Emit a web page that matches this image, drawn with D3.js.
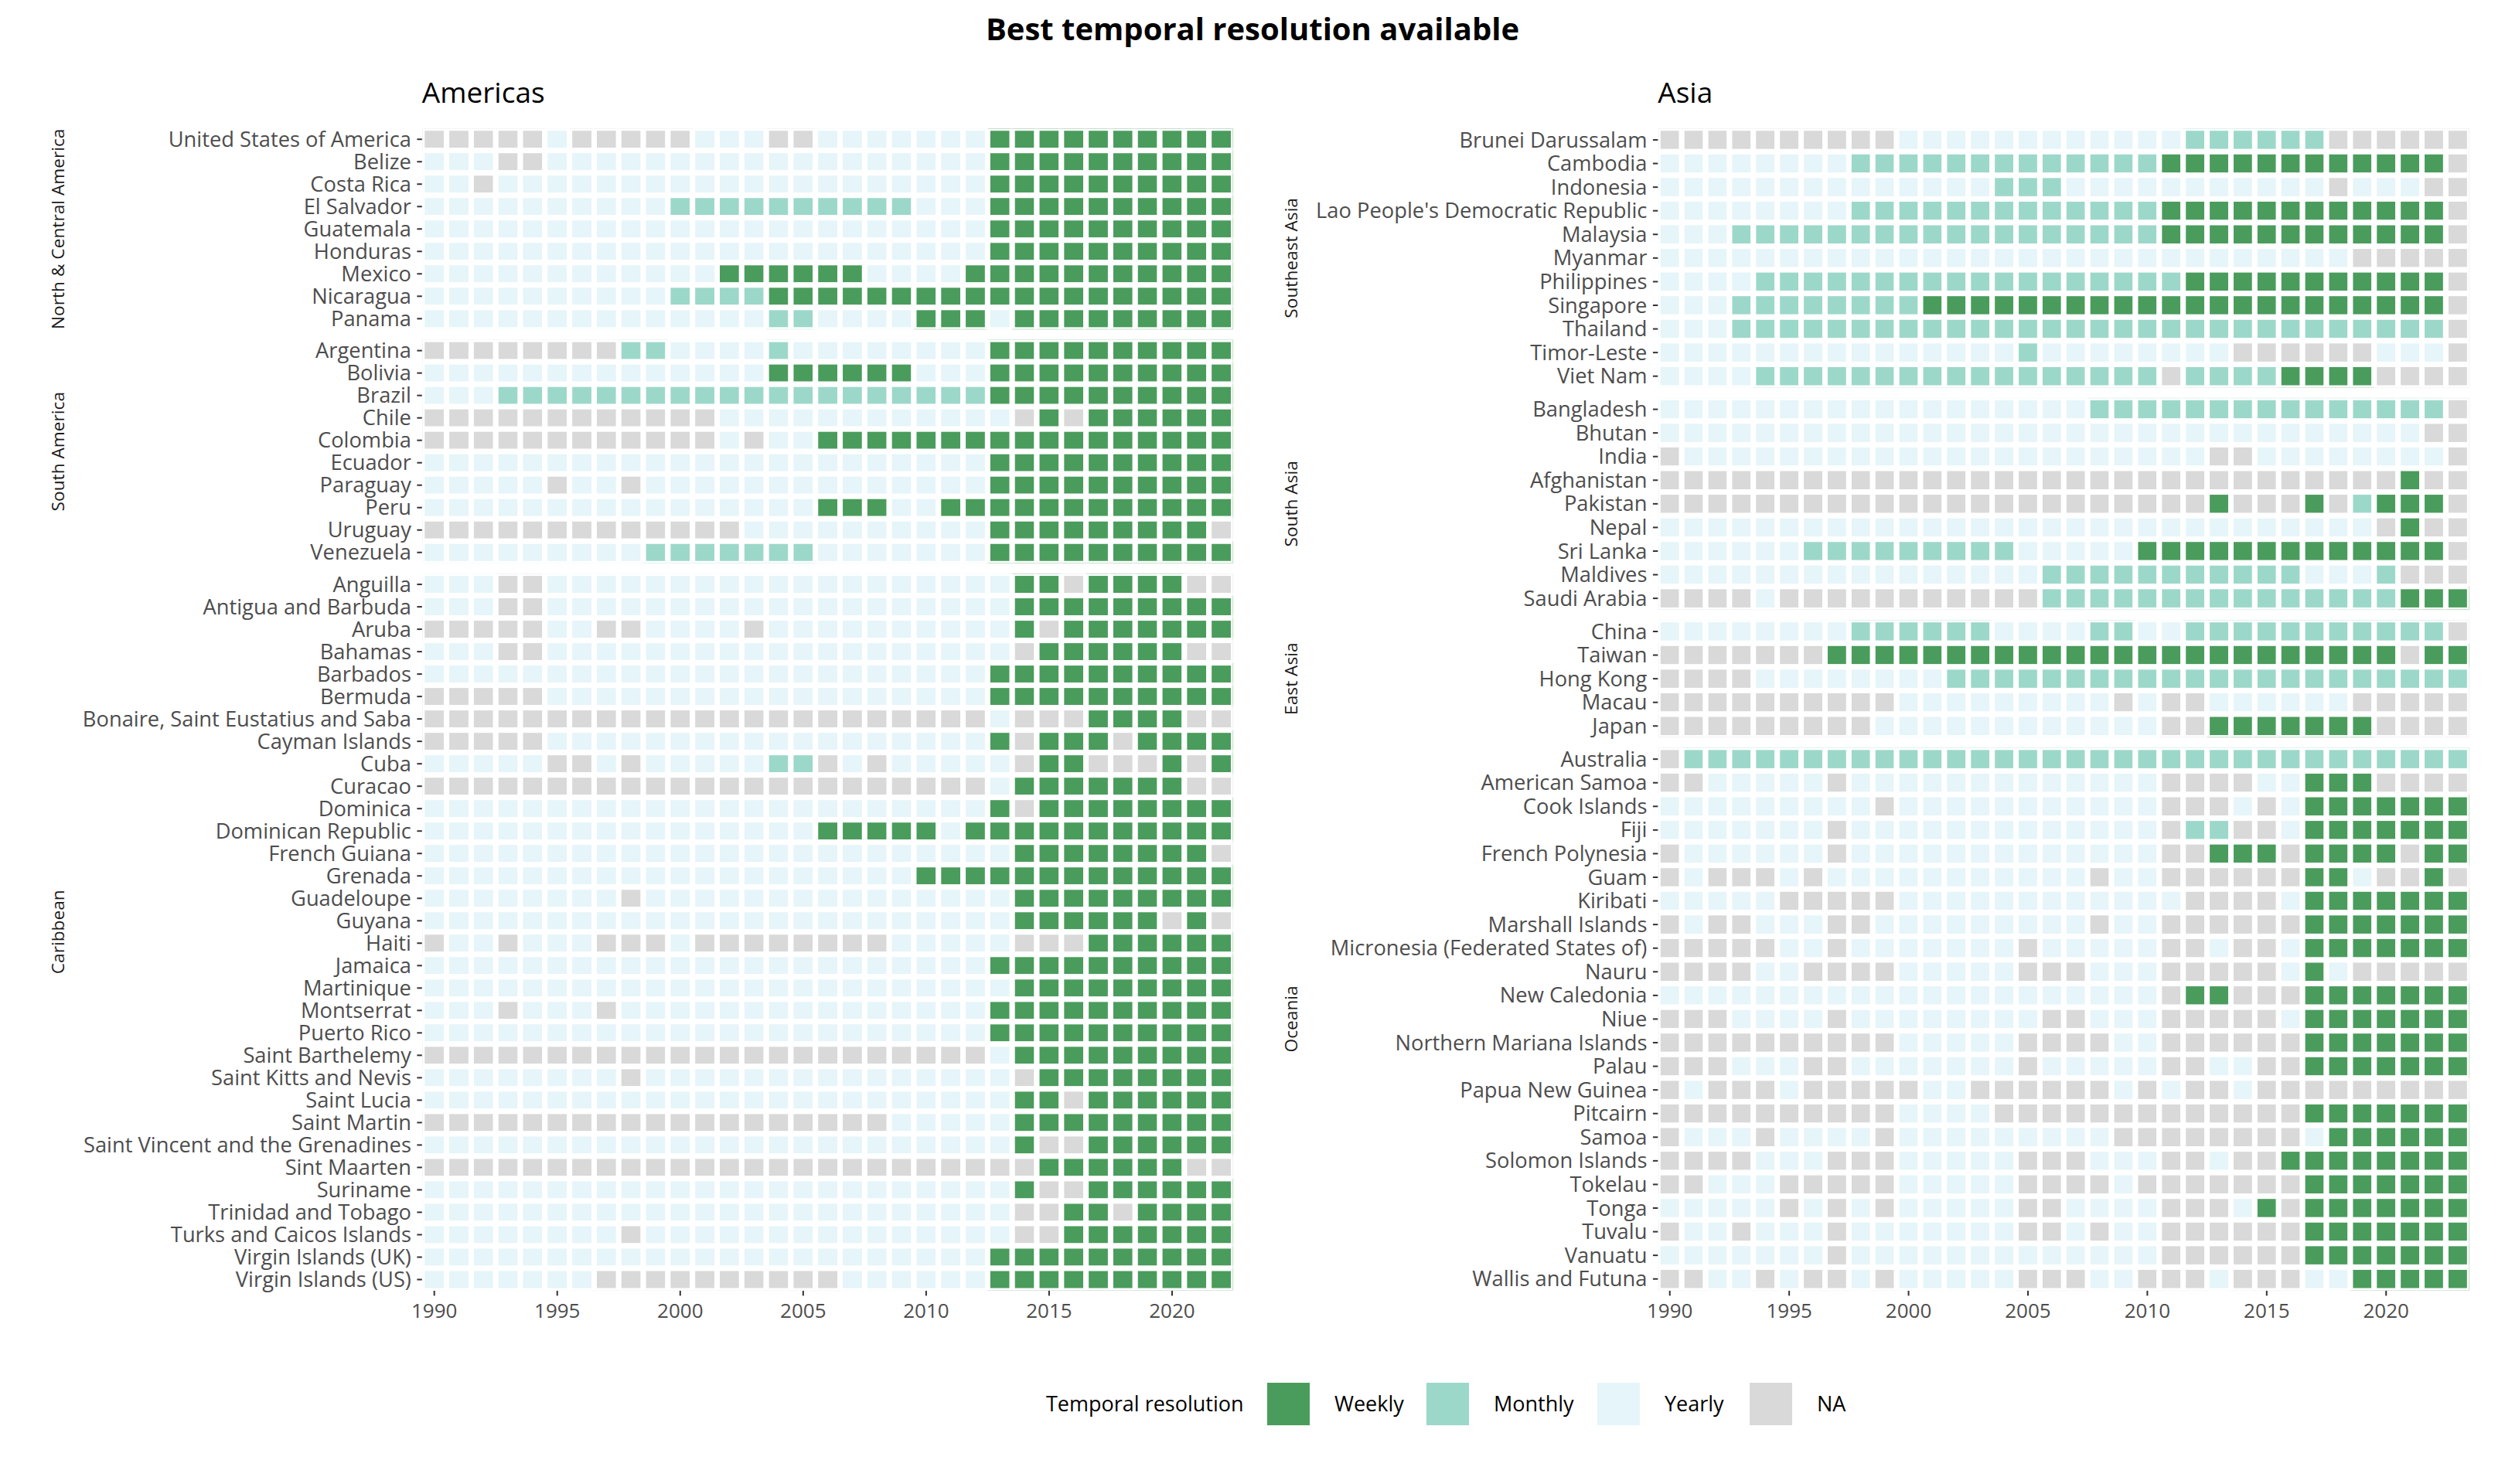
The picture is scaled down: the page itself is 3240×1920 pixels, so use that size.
<!DOCTYPE html>
<html>
<head>
<meta charset="utf-8">
<script src="https://cdn.jsdelivr.net/npm/d3@7"></script>
<style>
	body { margin: 0; background: #fff; }
	text { font-family: "Open Sans", sans-serif; }
</style>
</head>
<body>
<svg></svg>
<script>
// codes: W weekly, M monthly, Y yearly, N not available
// each string reads by year from 1990, split every five years
const resolutionCodes = ["W", "M", "Y", "N"];
const resolutionLabels = ["Weekly", "Monthly", "Yearly", "NA"];
const tickYears = [1990, 1995, 2000, 2005, 2010, 2015, 2020];
const yearsAmericas = d3.range(1990, 2023);
const yearsAsia = d3.range(1990, 2024);

const northCentralAmerica = [
	["United States of America", "NNNNN YNNNN NYYYN NYYYY YYYWW WWWWW WWW"],
	["Belize", "YYYNN YYYYY YYYYY YYYYY YYYWW WWWWW WWW"],
	["Costa Rica", "YYNYY YYYYY YYYYY YYYYY YYYWW WWWWW WWW"],
	["El Salvador", "YYYYY YYYYY MMMMM MMMMM YYYWW WWWWW WWW"],
	["Guatemala", "YYYYY YYYYY YYYYY YYYYY YYYWW WWWWW WWW"],
	["Honduras", "YYYYY YYYYY YYYYY YYYYY YYYWW WWWWW WWW"],
	["Mexico", "YYYYY YYYYY YYWWW WWWYY YYWWW WWWWW WWW"],
	["Nicaragua", "YYYYY YYYYY MMMMW WWWWW WWWWW WWWWW WWW"],
	["Panama", "YYYYY YYYYY YYYYM MYYYY WWWYW WWWWW WWW"],
];

const southAmerica = [
	["Argentina", "NNNNN NNNMM YYYYM YYYYY YYYWW WWWWW WWW"],
	["Bolivia", "YYYYY YYYYY YYYYW WWWWW YYYWW WWWWW WWW"],
	["Brazil", "YYYMM MMMMM MMMMM MMMMM MMMWW WWWWW WWW"],
	["Chile", "NNNNN NNNNN NNYYY YYYYY YYYYN WNWWW WWW"],
	["Colombia", "NNNNN NNNNN NNYNY YWWWW WWWWW WWWWW WWW"],
	["Ecuador", "YYYYY YYYYY YYYYY YYYYY YYYWW WWWWW WWW"],
	["Paraguay", "YYYYY NYYNY YYYYY YYYYY YYYWW WWWWW WWW"],
	["Peru", "YYYYY YYYYY YYYYY YWWWY YWWWW WWWWW WWW"],
	["Uruguay", "NNNNN NNNNN NNNYY YYYYY YYYWW WWWWW WWN"],
	["Venezuela", "YYYYY YYYYM MMMMM MYYYY YYYWW WWWWW WWW"],
];

const caribbean = [
	["Anguilla", "YYYNN YYYYY YYYYY YYYYY YYYYW WNWWW WNN"],
	["Antigua and Barbuda", "YYYNN YYYYY YYYYY YYYYY YYYYW WWWWW WWW"],
	["Aruba", "NNNNN YYNNY YYYNY YYYYY YYYYW NWWWW WWW"],
	["Bahamas", "YYYNN YYYYY YYYYY YYYYY YYYYN WWWWW WNN"],
	["Barbados", "YYYYY YYYYY YYYYY YYYYY YYYWW WWWWW WWW"],
	["Bermuda", "NNNNN YYYYY YYYYY YYYYY YYYWW WWWWW WWW"],
	["Bonaire, Saint Eustatius and Saba", "NNNNN NNNNN NNNNN NNNNN NNNYN NNWWW WNN"],
	["Cayman Islands", "NNNNN YYYYY YYYYY YYYYY YYYWN WWWNW WWW"],
	["Cuba", "YYYYY NNYNY YYYYM MNYNY YYYYN WWNNN WNW"],
	["Curacao", "NNNNN NNNNN NNNNN NNNNN NNNYW WWWWW WNN"],
	["Dominica", "YYYYY YYYYY YYYYY YYYYY YYYWN WWWWW WWW"],
	["Dominican Republic", "YYYYY YYYYY YYYYY YWWWW WYWWW WWWWW WWW"],
	["French Guiana", "YYYYY YYYYY YYYYY YYYYY YYYYW WWWWW WWN"],
	["Grenada", "YYYYY YYYYY YYYYY YYYYY WWWWW WWWWW WWW"],
	["Guadeloupe", "YYYYY YYYNY YYYYY YYYYY YYYYW WWWWW WWW"],
	["Guyana", "YYYYY YYYYY YYYYY YYYYY YYYYW WWWWW NWN"],
	["Haiti", "NYYNY YYNNN YNNNN NNNNY YYYYN NNWWW WWW"],
	["Jamaica", "YYYYY YYYYY YYYYY YYYYY YYYWW WWWWW WWW"],
	["Martinique", "YYYYY YYYYY YYYYY YYYYY YYYYW WWWWW WWW"],
	["Montserrat", "YYYNY YYNYY YYYYY YYYYY YYYWW WWWWW WWW"],
	["Puerto Rico", "YYYYY YYYYY YYYYY YYYYY YYYWW WWWWW WWW"],
	["Saint Barthelemy", "NNNNN NNNNN NNNNN NNNNN NNNYW WWWWW WWW"],
	["Saint Kitts and Nevis", "YYYYY YYYNY YYYYY YYYYY YYYYN WWWWW WWW"],
	["Saint Lucia", "YYYYY YYYYY YYYYY YYYYY YYYYW WNWWW WWW"],
	["Saint Martin", "NNNNN NNNNN NNNNN NNNNY YYYYW WWWWW WWW"],
	["Saint Vincent and the Grenadines", "YYYYY YYYYY YYYYY YYYYY YYYYW NNWWW WWW"],
	["Sint Maarten", "NNNNN NNNNN NNNNN NNNNN NNNNN WWWWW WNN"],
	["Suriname", "YYYYY YYYYY YYYYY YYYYY YYYYW NNWWW WWW"],
	["Trinidad and Tobago", "YYYYY YYYYY YYYYY YYYYY YYYYN NWWNW WWW"],
	["Turks and Caicos Islands", "YYYYY YYYNY YYYYY YYYYY YYYYN NWWWW WWW"],
	["Virgin Islands (UK)", "YYYYY YYYYY YYYYY YYYYY YYYWW WWWWW WWW"],
	["Virgin Islands (US)", "YYYYY YYNNN NNNNN NNYYY YYYWW WWWWW WWW"],
];

const southeastAsia = [
	["Brunei Darussalam", "NNNNN NNNNN YYYYY YYYYY YYMMM MMMNN NNNN"],
	["Cambodia", "YYYYY YYYMM MMMMM MMMMM MWWWW WWWWW WWWN"],
	["Indonesia", "YYYYY YYYYY YYYYM MMYYY YYYYY YYYNY YYNN"],
	["Lao People's Democratic Republic", "YYYYY YYYMM MMMMM MMMMM MWWWW WWWWW WWWN"],
	["Malaysia", "YYYMM MMMMM MMMMM MMMMM MWWWW WWWWW WWWN"],
	["Myanmar", "YYYYY YYYYY YYYYY YYYYY YYYYY YYYYN NNNN"],
	["Philippines", "YYYYM MMMMM MMMMM MMMMM MMWWW WWWWW WWWN"],
	["Singapore", "YYYMM MMMMM MWWWW WWWWW WWWWW WWWWW WWWN"],
	["Thailand", "YYYMM MMMMM MMMMM MMMMM MMMMM MMMMM MMMN"],
	["Timor-Leste", "YYYYY YYYYY YYYYY MYYYY YYYYN NNNNN YYYN"],
	["Viet Nam", "YYYYM MMMMM MMMMM MMMMM MNMMM MWWWW NNNN"],
];

const southAsia = [
	["Bangladesh", "YYYYY YYYYY YYYYY YYYMM MMMMM MMMMM MMMN"],
	["Bhutan", "YYYYY YYYYY YYYYY YYYYY YYYYY YYYYY YYNN"],
	["India", "NYYYY YYYYY YYYYY YYYYY YYYNN YYYYY YYYN"],
	["Afghanistan", "NNNNN NNNNN NNNNN NNNNN NNNNN NNNNN NWNN"],
	["Pakistan", "NNNNN NNNNN NNNNN NNNNN NNNWN NNWNM WWWN"],
	["Nepal", "YYYYY YYYYY YYYYY YYYYY YYYYY YYYYY NWNN"],
	["Sri Lanka", "YYYYY YMMMM MMMMM YYYYY WWWWW WWWWW WWWN"],
	["Maldives", "YYYYY YYYYY YYYYY YMMMM MMMMM MMYYY MNNN"],
	["Saudi Arabia", "NNNNY NNNNN NNNNN NMMMM MMMMM MMMMM MWWW"],
];

const eastAsia = [
	["China", "YYYYY YYYMM MMMMY YYYMM YYMMM MMMMM MMMN"],
	["Taiwan", "NNNNN NNWWW WWWWW WWWWW WWWWW WWWWW WNWW"],
	["Hong Kong", "NNNNY YYYYY YYMMM MMMMM MMMMM MMMMM MMMM"],
	["Macau", "NNNNN NNNNN YYYYY YYYYN YNNYY YYYYN NNNN"],
	["Japan", "NNNNN NNNNY YYYYY YYYYY YNNWW WWWWW NNNN"],
];

const oceania = [
	["Australia", "NMMMM MMMMM MMMMM MMMMM MMMMM MMMMM MMMM"],
	["American Samoa", "NNYYY YYNYY YYYYY YYYYY YNNNN YYWWW NNNN"],
	["Cook Islands", "YYYYY YYYYN YYYYY YYYYY YNNNY NYWWW WWWW"],
	["Fiji", "YYYYY YYNYY YYYYY YYYYY YNMMN NYWWW WWWW"],
	["French Polynesia", "NYYYY YYNYY YYYYY YYYYY YNNWW WNWWW WNWW"],
	["Guam", "NYNNN YNYYY YYYYY YYYNY YNNNN NNWWY NNWN"],
	["Kiribati", "YYYYY NNNNN YYYYY YYYYY YYNNN NYWWW WWWW"],
	["Marshall Islands", "NYNNY YYNNY YYYYY YYYNY YNNNN NNWWW WWWW"],
	["Micronesia (Federated States of)", "NNNNN YYNYY YYYYY NYYYY YNNYN NYWWW WWWW"],
	["Nauru", "NNNNY YNNNN YYYYY NNNYY YNNNN NYWYN NNNN"],
	["New Caledonia", "YYYYY YYYYY YYYYY YYYYY YNWWN NNWWW WWWW"],
	["Niue", "NNNYY YYNYY YYYYY YNNYY YNNNN NYWWW WWWW"],
	["Northern Mariana Islands", "NNNNN NNNNN YYYYY NNNNY YNNNN NNWWW WWWW"],
	["Palau", "NNNYY YNNYY YYYYY NYYYY YNNYY NNWWW WWWW"],
	["Papua New Guinea", "NYNNN YNNNN NYYNN NNNNY NYNNY NNNNN NNNN"],
	["Pitcairn", "NNNNN NNNNN YYYYN NNNNN NNNNN NNWWW WWWW"],
	["Samoa", "NYYYN YYYYN YYYYY YYYYN NNNNN NNYWW WWWW"],
	["Solomon Islands", "NNNNY YYNNN YYYYY NNNYY YNNYN NWWWW WWWW"],
	["Tokelau", "NNYYY NNNNN YYYYY NNNNY NNNNN NNWWW WWWW"],
	["Tonga", "YYYYY NYNYN YYYYY NNYYY YNNNY WNWWW WWWW"],
	["Tuvalu", "NYYNY YYNYY YYYYY NNYNY YNNNN NNWWW WWWW"],
	["Vanuatu", "YYYYY YYNYY YYYYY YYYYY YNNNN NNWWW WWWW"],
	["Wallis and Futuna", "NNYYN YNNYN YYYYY NNNYY NNNYN NNYYW WWWW"],
];

const width = 3240;
const height = 1920;
const panelTop = 165.7;
const panelBottom = 1670;
const facetGap = 12.3;
const tileStroke = 7;

const svg = d3.select("svg").attr("width", width).attr("height", height);

const color = d3
	.scaleOrdinal()
	.domain(resolutionCodes)
	.range(["#4a9c5c", "#9cd8ca", "#e5f5f9", "#d9d9d9"]);

svg.append("text")
	.attr("x", 1620)
	.attr("y", 52)
	.attr("text-anchor", "middle")
	.attr("font-size", 40)
	.attr("font-weight", 700)
	.text("Best temporal resolution available");

function drawPanel(id, title, left, right, stripX, years, facets) {
	const x = d3.scaleBand().domain(years).range([left, right]);
	const rowCount = d3.sum(facets, (f) => f.rows.length);
	const unit = (panelBottom - panelTop - facetGap * (facets.length - 1)) / rowCount;

	svg.append("text")
		.attr("x", left)
		.attr("y", 133)
		.attr("font-size", 37)
		.text(title);

	let top = panelTop;
	facets.forEach((facet, i) => {
		const y = d3
			.scaleBand()
			.domain(facet.rows.map((d) => d[0]))
			.range([top, top + unit * facet.rows.length]);
		const bottom = y.range()[1];

		// two clips: the tiles faintly reach the panel edge, the white borders stop just short of it
		const defs = svg.append("defs");
		defs.append("clipPath").attr("id", `${id}-${i}-edge`).append("rect")
			.attr("x", left).attr("y", top)
			.attr("width", right - left).attr("height", bottom - top);
		defs.append("clipPath").attr("id", `${id}-${i}-inner`).append("rect")
			.attr("x", left + 1).attr("y", top + 1)
			.attr("width", right - left - 2).attr("height", bottom - top - 2);

		const cells = facet.rows.flatMap((row) =>
			row[1].replace(/ /g, "").split("").map((code, j) => ({
				country: row[0],
				year: years[j],
				code: code,
			}))
		);

		svg.append("g")
			.attr("clip-path", `url(#${id}-${i}-edge)`)
			.selectAll("rect")
			.data(cells)
			.enter()
			.append("rect")
			.attr("x", (d) => x(d.year))
			.attr("y", (d) => y(d.country))
			.attr("width", x.bandwidth())
			.attr("height", y.bandwidth())
			.attr("fill", (d) => color(d.code))
			.attr("opacity", 0.22);

		svg.append("g")
			.attr("clip-path", `url(#${id}-${i}-inner)`)
			.selectAll("rect")
			.data(cells)
			.enter()
			.append("rect")
			.attr("x", (d) => x(d.year))
			.attr("y", (d) => y(d.country))
			.attr("width", x.bandwidth())
			.attr("height", y.bandwidth())
			.attr("fill", (d) => color(d.code))
			.attr("stroke", "#fff")
			.attr("stroke-width", tileStroke);

		const axis = svg.append("g")
			.attr("transform", `translate(${left},0)`)
			.call(d3.axisLeft(y).tickSize(6.4).tickPadding(7.5));
		axis.select(".domain").remove();
		axis.selectAll("line").attr("stroke", "#333").attr("stroke-width", 2);
		axis.selectAll("text")
			.attr("font-size", 27.3)
			.attr("font-family", '"Open Sans", sans-serif')
			.attr("fill", "#4d4d4d")
			.attr("dy", "0.35em");

		svg.append("text")
			.attr("transform", `translate(${stripX},${(top + bottom) / 2}) rotate(-90)`)
			.attr("text-anchor", "middle")
			.attr("font-size", 22.7)
			.attr("fill", "#1a1a1a")
			.text(facet.name);

		top = bottom + facetGap;
	});

	const axisX = svg.append("g")
		.attr("transform", `translate(0,${panelBottom})`)
		.call(d3.axisBottom(x).tickValues(tickYears).tickSize(6.4));
	axisX.select(".domain").remove();
	axisX.selectAll("line").attr("stroke", "#333").attr("stroke-width", 2);
	axisX.selectAll("text")
		.attr("font-size", 26)
		.attr("font-family", '"Open Sans", sans-serif')
		.attr("fill", "#4d4d4d")
		.attr("y", 35)
		.attr("dy", 0);
}

drawPanel("americas", "Americas", 545.8, 1595.5, 83, yearsAmericas, [
	{ name: "North & Central America", rows: northCentralAmerica },
	{ name: "South America", rows: southAmerica },
	{ name: "Caribbean", rows: caribbean },
]);

drawPanel("asia", "Asia", 2144.3, 3194.3, 1678, yearsAsia, [
	{ name: "Southeast Asia", rows: southeastAsia },
	{ name: "South Asia", rows: southAsia },
	{ name: "East Asia", rows: eastAsia },
	{ name: "Oceania", rows: oceania },
]);

// legend
const legendSwatchX = [1639, 1845, 2066, 2263];
const legendTop = 1789;
const legendSwatchSize = 55;

const legend = svg.append("g");
legend.append("text")
	.attr("x", 1353)
	.attr("y", legendTop + 37)
	.attr("font-size", 27)
	.text("Temporal resolution");

const key = legend
	.selectAll("g")
	.data(resolutionCodes)
	.enter()
	.append("g")
	.attr("transform", (d, i) => `translate(${legendSwatchX[i]},${legendTop})`);
key.append("rect")
	.attr("width", legendSwatchSize)
	.attr("height", legendSwatchSize)
	.attr("fill", (d) => color(d));
key.append("text")
	.attr("x", legendSwatchSize + 32)
	.attr("y", 37)
	.attr("font-size", 27)
	.text((d, i) => resolutionLabels[i]);
</script>
</body>
</html>
